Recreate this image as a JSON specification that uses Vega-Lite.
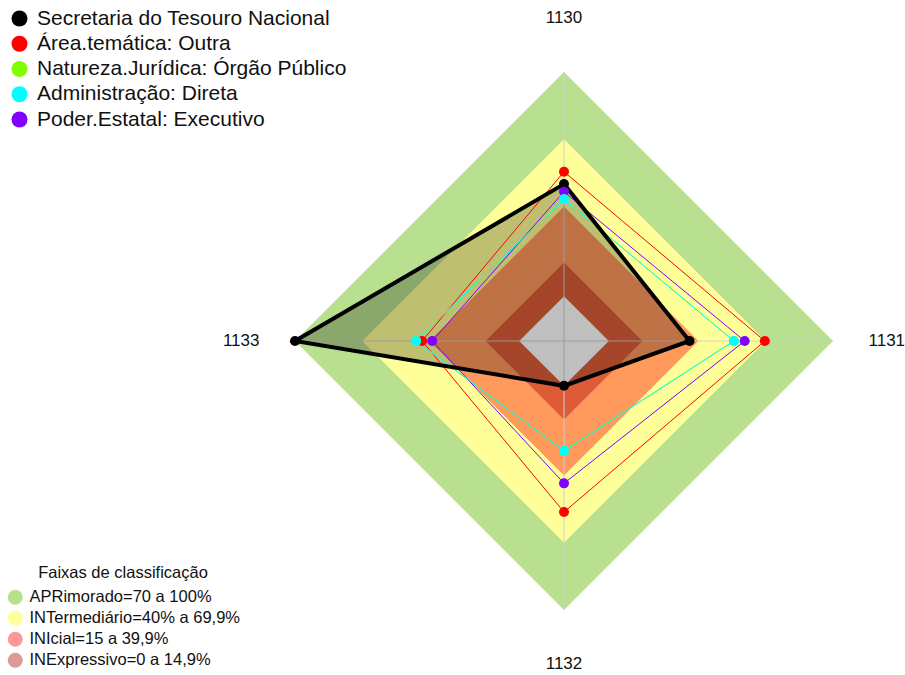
{
  "$schema": "https://vega.github.io/schema/vega-lite/v6.json",
  "width": 538,
  "height": 538,
  "autosize": {"type": "none"},
  "padding": {"left": 295, "top": 72, "right": 72, "bottom": 65},
  "background": "white",
  "config": {"view": {"stroke": null}, "font": "Liberation Sans"},
  "datasets": {
    "series": [
      {"series": "Secretaria do Tesouro Nacional", "axis": "1130", "value": 50},
      {"series": "Secretaria do Tesouro Nacional", "axis": "1131", "value": 36},
      {"series": "Secretaria do Tesouro Nacional", "axis": "1132", "value": 0},
      {"series": "Secretaria do Tesouro Nacional", "axis": "1133", "value": 100},
      {"series": "Área.temática: Outra", "axis": "1130", "value": 55.5},
      {"series": "Área.temática: Outra", "axis": "1131", "value": 69.6},
      {"series": "Área.temática: Outra", "axis": "1132", "value": 56.3},
      {"series": "Área.temática: Outra", "axis": "1133", "value": 43.3},
      {"series": "Natureza.Jurídica: Órgão Público", "axis": "1130", "value": 43.3},
      {"series": "Natureza.Jurídica: Órgão Público", "axis": "1131", "value": 55.8},
      {"series": "Natureza.Jurídica: Órgão Público", "axis": "1132", "value": 29},
      {"series": "Natureza.Jurídica: Órgão Público", "axis": "1133", "value": 46},
      {"series": "Poder.Estatal: Executivo", "axis": "1130", "value": 46.6},
      {"series": "Poder.Estatal: Executivo", "axis": "1131", "value": 60.6},
      {"series": "Poder.Estatal: Executivo", "axis": "1132", "value": 43.5},
      {"series": "Poder.Estatal: Executivo", "axis": "1133", "value": 38.8},
      {"series": "Administração: Direta", "axis": "1130", "value": 43.3},
      {"series": "Administração: Direta", "axis": "1131", "value": 55.8},
      {"series": "Administração: Direta", "axis": "1132", "value": 29},
      {"series": "Administração: Direta", "axis": "1133", "value": 46}
    ],
    "bands": [
      {"band": "APRimorado=70 a 100%", "axis": "1130", "value": 100},
      {"band": "APRimorado=70 a 100%", "axis": "1131", "value": 100},
      {"band": "APRimorado=70 a 100%", "axis": "1132", "value": 100},
      {"band": "APRimorado=70 a 100%", "axis": "1133", "value": 100},
      {"band": "INTermediário=40% a 69,9%", "axis": "1130", "value": 70},
      {"band": "INTermediário=40% a 69,9%", "axis": "1131", "value": 70},
      {"band": "INTermediário=40% a 69,9%", "axis": "1132", "value": 70},
      {"band": "INTermediário=40% a 69,9%", "axis": "1133", "value": 70},
      {"band": "INIcial=15 a 39,9%", "axis": "1130", "value": 40},
      {"band": "INIcial=15 a 39,9%", "axis": "1131", "value": 40},
      {"band": "INIcial=15 a 39,9%", "axis": "1132", "value": 40},
      {"band": "INIcial=15 a 39,9%", "axis": "1133", "value": 40},
      {"band": "INExpressivo=0 a 14,9%", "axis": "1130", "value": 15},
      {"band": "INExpressivo=0 a 14,9%", "axis": "1131", "value": 15},
      {"band": "INExpressivo=0 a 14,9%", "axis": "1132", "value": 15},
      {"band": "INExpressivo=0 a 14,9%", "axis": "1133", "value": 15},
      {"band": "centro", "axis": "1130", "value": 0},
      {"band": "centro", "axis": "1131", "value": 0},
      {"band": "centro", "axis": "1132", "value": 0},
      {"band": "centro", "axis": "1133", "value": 0}
    ],
    "axes": [
      {"axis": "1130"},
      {"axis": "1131"},
      {"axis": "1132"},
      {"axis": "1133"}
    ]
  },
  "layer": [
    {
      "data": {"name": "bands"},
      "transform": [
        {"filter": "datum.value > 0"},
        {"calculate": "datum.axis === '1131' ? 1 : datum.axis === '1133' ? -1 : 0", "as": "dx"},
        {"calculate": "datum.axis === '1130' ? 1 : datum.axis === '1132' ? -1 : 0", "as": "dy"},
        {"calculate": "datum.dx * (datum.value + 20)", "as": "px"},
        {"calculate": "datum.dy * (datum.value + 20)", "as": "py"},
        {"calculate": "indexof(['1130','1131','1132','1133'], datum.axis)", "as": "k"}
      ],
      "mark": {"type": "line", "interpolate": "linear-closed", "strokeWidth": 0},
      "encoding": {
        "x": {"field": "px", "type": "quantitative", "scale": {"domain": [-120, 120], "nice": false, "zero": false}, "axis": null},
        "y": {"field": "py", "type": "quantitative", "scale": {"domain": [-120, 120], "nice": false, "zero": false}, "axis": null},
        "order": {"field": "k", "type": "quantitative"},
        "detail": {"field": "band", "type": "nominal"},
        "fill": {
          "field": "band",
          "type": "nominal",
          "scale": {
            "domain": ["APRimorado=70 a 100%", "INTermediário=40% a 69,9%", "INIcial=15 a 39,9%", "INExpressivo=0 a 14,9%"],
            "range": ["#B9E08F", "#FFFF99", "rgba(255,0,0,0.4)", "rgba(170,0,0,0.4)"]
          },
          "legend": {
            "title": "Faixas de classificação",
            "orient": "none",
            "legendX": -288,
            "legendY": 493,
            "padding": 0,
            "titleFontSize": 16.5,
            "titleFontWeight": "normal",
            "titleColor": "#111111",
            "titleAnchor": "middle",
            "titlePadding": 7.5,
            "symbolType": "circle",
            "symbolSize": 225,
            "symbolStrokeWidth": 0,
            "labelFontSize": 16.5,
            "labelColor": "#111111",
            "labelOffset": 6,
            "rowPadding": 4,
            "labelLimit": 400
          }
        }
      }
    },
    {
      "data": {"name": "bands"},
      "transform": [
        {"filter": "datum.value === 0"},
        {"calculate": "datum.axis === '1131' ? 1 : datum.axis === '1133' ? -1 : 0", "as": "dx"},
        {"calculate": "datum.axis === '1130' ? 1 : datum.axis === '1132' ? -1 : 0", "as": "dy"},
        {"calculate": "datum.dx * (datum.value + 20)", "as": "px"},
        {"calculate": "datum.dy * (datum.value + 20)", "as": "py"},
        {"calculate": "indexof(['1130','1131','1132','1133'], datum.axis)", "as": "k"}
      ],
      "mark": {"type": "line", "interpolate": "linear-closed", "strokeWidth": 0, "fill": "white"},
      "encoding": {
        "x": {"field": "px", "type": "quantitative"},
        "y": {"field": "py", "type": "quantitative"},
        "order": {"field": "k", "type": "quantitative"}
      }
    },
    {
      "data": {"name": "bands"},
      "transform": [
        {"filter": "datum.value === 100"},
        {"calculate": "datum.axis === '1131' ? 1 : datum.axis === '1133' ? -1 : 0", "as": "dx"},
        {"calculate": "datum.axis === '1130' ? 1 : datum.axis === '1132' ? -1 : 0", "as": "dy"},
        {"calculate": "datum.dx * (datum.value + 20)", "as": "px"},
        {"calculate": "datum.dy * (datum.value + 20)", "as": "py"},
        {"calculate": "0", "as": "x0"},
        {"calculate": "0", "as": "y0"}
      ],
      "mark": {"type": "rule", "color": "#CFCFCF", "strokeWidth": 1.2, "opacity": 0.85},
      "encoding": {
        "x": {"field": "x0", "type": "quantitative"},
        "y": {"field": "y0", "type": "quantitative"},
        "x2": {"field": "px"},
        "y2": {"field": "py"}
      }
    },
    {
      "data": {"name": "series"},
      "transform": [
        {"filter": "datum.series === 'Secretaria do Tesouro Nacional'"},
        {"calculate": "datum.axis === '1131' ? 1 : datum.axis === '1133' ? -1 : 0", "as": "dx"},
        {"calculate": "datum.axis === '1130' ? 1 : datum.axis === '1132' ? -1 : 0", "as": "dy"},
        {"calculate": "datum.dx * (datum.value + 20)", "as": "px"},
        {"calculate": "datum.dy * (datum.value + 20)", "as": "py"},
        {"calculate": "indexof(['1130','1131','1132','1133'], datum.axis)", "as": "k"}
      ],
      "mark": {"type": "line", "interpolate": "linear-closed", "strokeWidth": 0, "fill": "black", "fillOpacity": 0.25},
      "encoding": {
        "x": {"field": "px", "type": "quantitative"},
        "y": {"field": "py", "type": "quantitative"},
        "order": {"field": "k", "type": "quantitative"}
      }
    },
    {
      "data": {"name": "series"},
      "transform": [
        {"filter": "datum.series !== 'Secretaria do Tesouro Nacional'"},
        {"calculate": "datum.axis === '1131' ? 1 : datum.axis === '1133' ? -1 : 0", "as": "dx"},
        {"calculate": "datum.axis === '1130' ? 1 : datum.axis === '1132' ? -1 : 0", "as": "dy"},
        {"calculate": "datum.dx * (datum.value + 20)", "as": "px"},
        {"calculate": "datum.dy * (datum.value + 20)", "as": "py"},
        {"calculate": "indexof(['1130','1131','1132','1133'], datum.axis)", "as": "k"}
      ],
      "mark": {"type": "line", "interpolate": "linear-closed", "strokeWidth": 1},
      "encoding": {
        "x": {"field": "px", "type": "quantitative"},
        "y": {"field": "py", "type": "quantitative"},
        "order": {"field": "k", "type": "quantitative"},
        "detail": {"field": "series", "type": "nominal"},
        "stroke": {
          "field": "series",
          "type": "nominal",
          "scale": {
            "domain": ["Área.temática: Outra", "Natureza.Jurídica: Órgão Público", "Administração: Direta", "Poder.Estatal: Executivo"],
            "range": ["#FF0000", "#80FF00", "#00FFFF", "#8000FF"]
          },
          "legend": null
        }
      }
    },
    {
      "data": {"name": "series"},
      "transform": [
        {"filter": "datum.series === 'Secretaria do Tesouro Nacional'"},
        {"calculate": "datum.axis === '1131' ? 1 : datum.axis === '1133' ? -1 : 0", "as": "dx"},
        {"calculate": "datum.axis === '1130' ? 1 : datum.axis === '1132' ? -1 : 0", "as": "dy"},
        {"calculate": "datum.dx * (datum.value + 20)", "as": "px"},
        {"calculate": "datum.dy * (datum.value + 20)", "as": "py"},
        {"calculate": "indexof(['1130','1131','1132','1133'], datum.axis)", "as": "k"}
      ],
      "mark": {"type": "line", "interpolate": "linear-closed", "strokeWidth": 4, "stroke": "black"},
      "encoding": {
        "x": {"field": "px", "type": "quantitative"},
        "y": {"field": "py", "type": "quantitative"},
        "order": {"field": "k", "type": "quantitative"}
      }
    },
    {
      "data": {"name": "series"},
      "transform": [
        {"calculate": "datum.axis === '1131' ? 1 : datum.axis === '1133' ? -1 : 0", "as": "dx"},
        {"calculate": "datum.axis === '1130' ? 1 : datum.axis === '1132' ? -1 : 0", "as": "dy"},
        {"calculate": "datum.dx * (datum.value + 20)", "as": "px"},
        {"calculate": "datum.dy * (datum.value + 20)", "as": "py"}
      ],
      "mark": {"type": "point", "filled": true, "opacity": 1, "size": 100, "shape": "circle"},
      "encoding": {
        "x": {"field": "px", "type": "quantitative"},
        "y": {"field": "py", "type": "quantitative"},
        "color": {
          "field": "series",
          "type": "nominal",
          "scale": {
            "domain": ["Secretaria do Tesouro Nacional", "Área.temática: Outra", "Natureza.Jurídica: Órgão Público", "Administração: Direta", "Poder.Estatal: Executivo"],
            "range": ["#000000", "#FF0000", "#80FF00", "#00FFFF", "#8000FF"]
          },
          "legend": {
            "title": null,
            "orient": "none",
            "legendX": -286,
            "legendY": -64,
            "padding": 0,
            "symbolType": "circle",
            "symbolSize": 256,
            "symbolStrokeWidth": 0,
            "symbolOpacity": 1,
            "labelFontSize": 21,
            "labelColor": "#111111",
            "labelOffset": 7,
            "rowPadding": 3.25,
            "labelLimit": 500
          }
        }
      }
    },
    {
      "data": {"name": "axes"},
      "transform": [
        {"calculate": "datum.axis === '1131' ? 144 : datum.axis === '1133' ? -144 : 0", "as": "px"},
        {"calculate": "datum.axis === '1130' ? 144 : datum.axis === '1132' ? -144 : 0", "as": "py"}
      ],
      "mark": {"type": "text", "fontSize": 17, "align": "center", "baseline": "middle", "color": "#111111"},
      "encoding": {
        "x": {"field": "px", "type": "quantitative"},
        "y": {"field": "py", "type": "quantitative"},
        "text": {"field": "axis", "type": "nominal"}
      }
    }
  ]
}
